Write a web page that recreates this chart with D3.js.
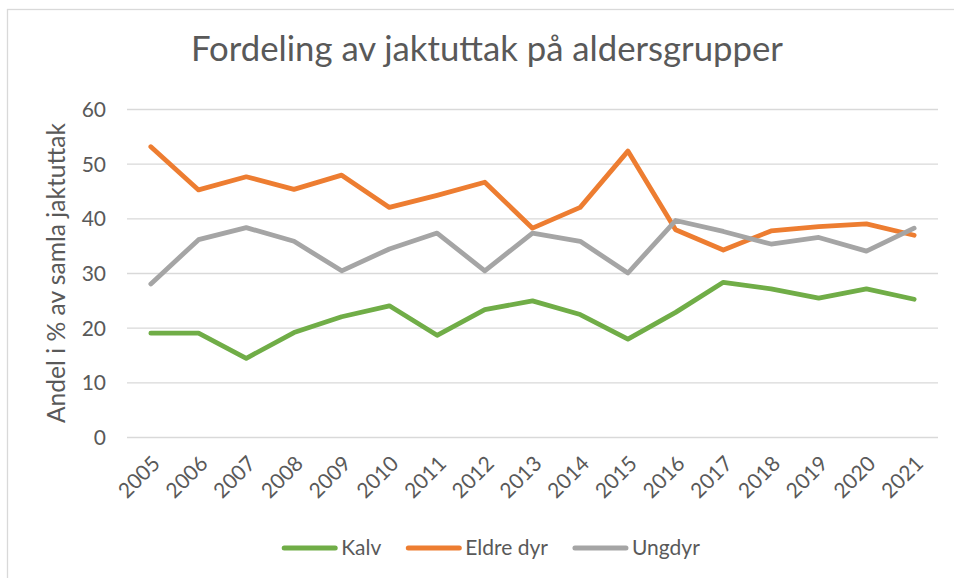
<!DOCTYPE html>
<html>
<head>
<meta charset="utf-8">
<script src="https://cdn.jsdelivr.net/npm/d3@7"></script>
<style>
  html, body { margin: 0; padding: 0; background: #fff; }
  svg { display: block; }
  text { font-family: Lato, "Open Sans", sans-serif; fill: #595959; }
</style>
</head>
<body>
<svg id="chart" width="954" height="578"></svg>
<script>
// Andel av jaktuttak per aldersgruppe (%)
const years = ["2005","2006","2007","2008","2009","2010","2011","2012","2013","2014","2015","2016","2017","2018","2019","2020","2021"];
const kalv   = [19.0, 19.0, 14.4, 19.1, 22.0, 24.0, 18.6, 23.3, 24.9, 22.4, 17.9, 22.8, 28.3, 27.1, 25.4, 27.1, 25.2];
const eldre  = [53.1, 45.2, 47.6, 45.3, 47.9, 42.0, 44.2, 46.6, 38.2, 42.0, 52.3, 37.9, 34.2, 37.7, 38.5, 39.0, 36.9];
const ungdyr = [28.0, 36.1, 38.3, 35.8, 30.4, 34.4, 37.3, 30.4, 37.3, 35.8, 30.0, 39.6, 37.6, 35.3, 36.5, 34.0, 38.2];
const seriesNames = ["Kalv", "Eldre dyr", "Ungdyr"];
const seriesColors = ["#70AD47", "#ED7D31", "#A5A5A5"];
const yTicks = [0, 10, 20, 30, 40, 50, 60];
const title = "Fordeling av jaktuttak på aldersgrupper";
const yTitle = "Andel i % av samla jaktuttak";

const series = [kalv, eldre, ungdyr].map((vals, i) => ({
  name: seriesNames[i], color: seriesColors[i],
  values: vals.map((v, j) => ({ year: years[j], value: v }))
}));

const svg = d3.select("#chart");
const plot = { left: 127, right: 938, top: 109, bottom: 437 };
const centreX = 487;

// chart frame
svg.append("rect")
  .attr("x", 7.5).attr("y", 9.5).attr("width", 1000).attr("height", 600)
  .attr("fill", "none").attr("stroke", "#D9D9D9").attr("stroke-width", 1.3);

const x = d3.scalePoint().domain(years).range([plot.left, plot.right]).padding(0.5);
const y = d3.scaleLinear().domain([0, 60]).range([plot.bottom, plot.top]);

// fit a text element's font size to a target width
function fitWidth(sel, target, start) {
  sel.style("font-size", start + "px");
  const w = sel.node().getComputedTextLength();
  sel.style("font-size", (start * target / w).toFixed(2) + "px");
}

// title
const titleText = svg.append("text")
  .attr("x", centreX).attr("y", 61)
  .attr("text-anchor", "middle")
  .style("font-weight", 400)
  .text(title);
fitWidth(titleText, 592, 32);

// horizontal gridlines + y labels
const yAxis = d3.axisLeft(y).tickValues(yTicks).tickSize(-(plot.right - plot.left)).tickPadding(21);
const gy = svg.append("g").attr("transform", `translate(${plot.left},0)`).call(yAxis);
gy.select(".domain").remove();
gy.selectAll(".tick line").attr("stroke", "#D9D9D9").attr("stroke-width", 1.3);
gy.selectAll(".tick text").style("font-size", "21px").attr("fill", "#595959").attr("dy", "0.36em");

// x axis labels, rotated
const xAxis = d3.axisBottom(x).tickSize(0).tickPadding(0);
const gx = svg.append("g").attr("transform", `translate(0,${plot.bottom})`).call(xAxis);
gx.select(".domain").remove();
gx.selectAll(".tick text")
  .style("font-size", "21px").attr("fill", "#595959")
  .attr("text-anchor", "end")
  .attr("dy", null).attr("y", 0)
  .attr("transform", "translate(10,28) rotate(-45)");

// y axis title
const yTitleText = svg.append("text")
  .attr("transform", `translate(65,${(plot.top + plot.bottom) / 2}) rotate(-90)`)
  .attr("text-anchor", "middle")
  .text(yTitle);
fitWidth(yTitleText, 300, 22);

// series lines
const line = d3.line().x(d => x(d.year)).y(d => y(d.value));
svg.append("g").selectAll("path").data(series).join("path")
  .attr("d", d => line(d.values))
  .attr("fill", "none")
  .attr("stroke", d => d.color)
  .attr("stroke-width", 4.8)
  .attr("stroke-linejoin", "round")
  .attr("stroke-linecap", "round");

// legend, laid out from measured text widths and centred
const legend = svg.append("g");
const swatch = 55, gapText = 4, gapItem = 25;
let cursor = 0;
const items = legend.selectAll("g").data(series).join("g");
items.append("line")
  .attr("x1", 2).attr("x2", swatch - 2).attr("y1", 0).attr("y2", 0)
  .attr("stroke", d => d.color).attr("stroke-width", 5).attr("stroke-linecap", "round");
items.append("text")
  .attr("x", swatch + gapText).attr("y", 7)
  .style("font-size", "21px")
  .text(d => d.name);
items.each(function() {
  const w = this.querySelector("text").getComputedTextLength();
  d3.select(this).attr("transform", `translate(${cursor},0)`);
  cursor += swatch + gapText + w + gapItem;
});
const total = cursor - gapItem;
legend.attr("transform", `translate(${centreX + 4 - total / 2},548)`);
</script>
</body>
</html>
